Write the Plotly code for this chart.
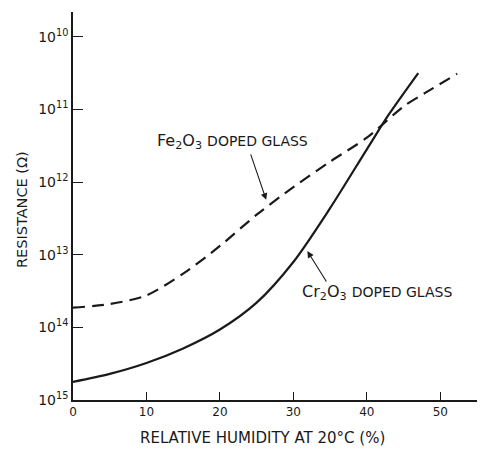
import plotly.graph_objects as go

# Relative humidity (%) and log10 of resistance (ohm)
fe_rh = [0, 5, 10, 15, 20, 25, 30, 35, 40, 45, 48, 52.3]
fe_logR = [13.73, 13.68, 13.56, 13.26, 12.88, 12.45, 12.07, 11.72, 11.39, 10.96, 10.77, 10.51]

cr_rh = [0, 5, 10, 15, 20, 25, 30, 35, 40, 43, 47]
cr_logR = [14.75, 14.64, 14.49, 14.29, 14.03, 13.66, 13.10, 12.36, 11.55, 11.07, 10.50]

x_ticks = [0, 10, 20, 30, 40, 50]
y_exps = [10, 11, 12, 13, 14, 15]

fe_R = [10 ** v for v in fe_logR]
cr_R = [10 ** v for v in cr_logR]

FONT = "DejaVu Sans, sans-serif"
INK = "#1a1a1a"

fig = go.Figure()
fig.add_trace(go.Scatter(x=fe_rh, y=fe_R, mode="lines",
                         line=dict(color=INK, width=2.2, dash="12px,7px", shape="spline", smoothing=0.8),
                         showlegend=False, hoverinfo="skip"))
fig.add_trace(go.Scatter(x=cr_rh, y=cr_R, mode="lines",
                         line=dict(color=INK, width=2.2, shape="spline", smoothing=0.8),
                         showlegend=False, hoverinfo="skip"))

fig.update_layout(
    width=480, height=449,
    margin=dict(l=73, r=3, t=12, b=49),
    paper_bgcolor="white", plot_bgcolor="white",
    font=dict(family=FONT, color=INK, size=12),
    xaxis=dict(range=[0, 55], showgrid=False, zeroline=False, showline=True, linecolor=INK, linewidth=1.5,
               ticks="inside", ticklen=8, tickwidth=1.2, tickcolor=INK, automargin=False,
               tickvals=x_ticks, ticktext=[str(v) for v in x_ticks], tickfont=dict(size=12)),
    yaxis=dict(type="log", range=[15, 9.66], showgrid=False, zeroline=False, showline=True, linecolor=INK, linewidth=1.5,
               ticks="inside", ticklen=10, tickwidth=1.2, tickcolor=INK, automargin=False,
               tickvals=[10 ** e for e in y_exps], ticktext=["10<sup>%d</sup>" % e for e in y_exps],
               tickfont=dict(size=14)),
)

fig.add_annotation(x=11.16, y=11.445, xanchor="left", yanchor="middle", showarrow=False,
                   text="Fe<sub>2</sub>O<sub>3</sub> <span style='font-size:14px'>DOPED GLASS</span>",
                   font=dict(size=16))
fig.add_annotation(x=30.9, y=13.52, xanchor="left", yanchor="middle", showarrow=False,
                   text="Cr<sub>2</sub>O<sub>3</sub> <span style='font-size:14px'>DOPED GLASS</span>",
                   font=dict(size=16))

fig.add_annotation(x=26.3, y=12.245, ax=-16, ay=-47, showarrow=True, arrowhead=2, arrowsize=1.2,
                   arrowwidth=1.1, arrowcolor=INK, text="")
fig.add_annotation(x=31.9, y=12.95, ax=20, ay=32, showarrow=True, arrowhead=2, arrowsize=1.2,
                   arrowwidth=1.1, arrowcolor=INK, text="")

fig.add_annotation(xref="paper", yref="paper", x=-0.126, y=0.49, textangle=-90, showarrow=False,
                   text="RESISTANCE (Ω)", font=dict(size=14.5), xanchor="center", yanchor="middle")
fig.add_annotation(xref="paper", yref="paper", x=0.47, y=-0.098, showarrow=False,
                   text="RELATIVE HUMIDITY AT 20°C (%)", font=dict(size=15), xanchor="center", yanchor="middle")

fig.write_html("out.html", config={"displayModeBar": False},
               post_script="document.body.style.margin='0';document.body.style.overflow='hidden';")
